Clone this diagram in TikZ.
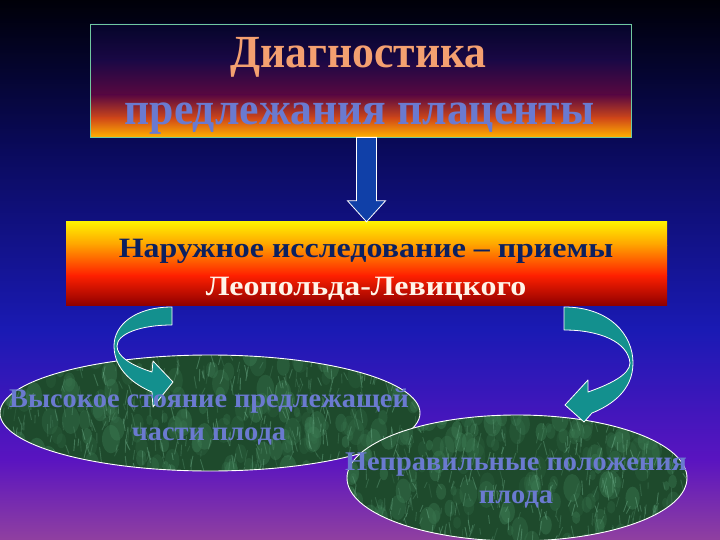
\documentclass[tikz,border=0pt]{standalone}
\usepackage{fontspec}
\setmainfont{Liberation Serif}
\newfontfamily\titlefont[FakeStretch=0.95]{Liberation Serif}
\newfontfamily\midfont[FakeStretch=1.14]{Liberation Serif}
\newfontfamily\ellfont[FakeStretch=1.05]{Liberation Serif}
\usetikzlibrary{calc,shapes.geometric}
\definecolor{bgA}{HTML}{000008}
\definecolor{bgB}{HTML}{0A0A5C}
\definecolor{bgC}{HTML}{1A1AB4}
\definecolor{bgD}{HTML}{5A14C0}
\definecolor{bgE}{HTML}{9040A0}
\definecolor{tbA}{HTML}{05052A}
\definecolor{tbB}{HTML}{1A0845}
\definecolor{tbC}{HTML}{5A0840}
\definecolor{tbD}{HTML}{D04818}
\definecolor{tbE}{HTML}{FFB000}
\definecolor{mbA}{HTML}{FFF000}
\definecolor{mbB}{HTML}{FFA000}
\definecolor{mbC}{HTML}{FF2000}
\definecolor{mbD}{HTML}{900000}
\definecolor{peach}{HTML}{F4A070}
\definecolor{slate}{HTML}{6A7AD0}
\definecolor{navytxt}{HTML}{0C2060}
\definecolor{cream}{HTML}{FFF4E8}
\definecolor{teal}{HTML}{13908E}
\definecolor{boxline}{HTML}{70C8A0}
\definecolor{arrowblue}{HTML}{1040A8}
\definecolor{grbase}{HTML}{1E4A2C}
\definecolor{grlight}{HTML}{6AAA86}
\definecolor{grmid}{HTML}{3E7E56}
\tikzset{
  bigtxt/.style={font=\titlefont\bfseries\fontsize{46}{50}\selectfont, inner sep=0pt, anchor=base},
  midtxt/.style={font=\midfont\bfseries\fontsize{28}{32}\selectfont, inner sep=0pt, anchor=base},
  elltxt/.style={font=\ellfont\bfseries\fontsize{27}{30}\selectfont, text=slate, inner sep=0pt, anchor=base},
  ribbon/.style={fill=teal, draw=white, line width=0.8pt, line join=round},
  blockarrow/.style={fill=arrowblue, draw=white, line width=0.8pt},
  ellborder/.style={draw=white, line width=0.9pt}
}
\newcommand\marbletexture[4]{% cx cy rx ry
  \foreach \i in {1,...,160} {
    \pgfmathsetmacro\xx{#1+#3*rand}
    \pgfmathsetmacro\yy{#2+#4*rand}
    \pgfmathsetmacro\rr{3+6*rnd}
    \pgfmathsetmacro\op{0.15+0.3*rnd}
    \fill[grmid, opacity=\op] (\xx,\yy) ellipse [x radius=\rr, y radius=1.6*\rr];
  }
  \foreach \i in {1,...,380} {
    \pgfmathsetmacro\xx{#1+#3*rand}
    \pgfmathsetmacro\yy{#2+#4*rand}
    \pgfmathsetmacro\dx{4*rand}
    \pgfmathsetmacro\dy{5+10*rnd}
    \pgfmathsetmacro\op{0.15+0.35*rnd}
    \draw[grlight, opacity=\op, line width=0.9pt, line cap=round] (\xx,\yy) -- ++(\dx,\dy);
  }
}
\begin{document}
\begin{tikzpicture}[x=1pt,y=-1pt]
\useasboundingbox (0,0) rectangle (720,540);
% background
\shade[top color=bgA,bottom color=bgB] (0,0) rectangle (720,151);
\shade[top color=bgB,bottom color=bgC] (0,150) rectangle (720,331);
\shade[top color=bgC,bottom color=bgD] (0,330) rectangle (720,461);
\shade[top color=bgD,bottom color=bgE] (0,460) rectangle (720,540);
% top box
\shade[top color=tbA,bottom color=tbB] (90,24) rectangle (631,60.5);
\shade[top color=tbB,bottom color=tbC] (90,60) rectangle (631,95.5);
\shade[top color=tbC,bottom color=tbD] (90,95) rectangle (631,118.5);
\shade[top color=tbD,bottom color=tbE] (90,118) rectangle (631,137);
\node[draw=boxline, line width=0.8pt, minimum width=541pt, minimum height=113pt, inner sep=0pt] (topbox) at (360.5,80.5) {};
\node[bigtxt, text=peach] (t1) at (358.5,68) {Диагностика};
\node[bigtxt, text=slate] (t2) at (359.5,125) {предлежания плаценты};
% middle box
\shade[top color=mbA,bottom color=mbB] (66,222) rectangle (667,245.5);
\shade[top color=mbB,bottom color=mbC] (66,245) rectangle (667,275.5);
\shade[top color=mbC,bottom color=mbD] (66,275) rectangle (667,305);
\node[minimum width=601pt, minimum height=83pt, inner sep=0pt] (midbox) at (366.5,263.5) {};
\node[midtxt, text=navytxt] (m1) at (366,258) {Наружное исследование – приемы};
\node[midtxt, text=cream] (m2) at (366,295) {Леопольда-Левицкого};
% down arrow
\coordinate (dtop) at (midbox.north |- topbox.south);
\filldraw[blockarrow] ($(dtop)+(-10,0)$) -- ($(dtop)+(10,0)$) -- ($(midbox.north)+(10,-21)$) -- ($(midbox.north)+(19,-21)$) -- (midbox.north) -- ($(midbox.north)+(-19,-21)$) -- ($(midbox.north)+(-10,-21)$) -- cycle;
% left ellipse
\pgfmathsetseed{7}
\begin{scope}
\clip (210,413) ellipse [x radius=210, y radius=58];
\fill[grbase] (0,350) rectangle (420,475);
\marbletexture{210}{413}{210}{60}
\end{scope}
\node[ellipse, ellborder, minimum width=420pt, minimum height=116pt, inner sep=0pt] (ell1) at (210,413) {};
% left ribbon arrow
\filldraw[ribbon] (172,307) .. controls (135,307) and (114,325) .. (114,346)
  .. controls (114,370) and (135,385) .. (152,392) -- (153,407) -- (173,382) -- (153,361) -- (152,372)
  .. controls (130,365) and (117,356) .. (117,346)
  .. controls (117,334) and (140,325) .. (172,325) -- cycle;
% right ellipse
\begin{scope}
\clip (517,478) ellipse [x radius=170, y radius=63];
\fill[grbase] (345,412) rectangle (690,545);
\marbletexture{517}{478}{170}{66}
\end{scope}
\node[ellipse, ellborder, minimum width=340pt, minimum height=126pt, inner sep=0pt] (ell2) at (517,478) {};
% right ribbon arrow
\filldraw[ribbon] (564,307) .. controls (610,307) and (633,335) .. (633,363)
  .. controls (633,390) and (612,405) .. (592,413) -- (584,422) -- (565,405) -- (588,380) -- (588,392)
  .. controls (608,385) and (630,375) .. (630,363)
  .. controls (628,342) and (600,330) .. (564,330) -- cycle;
% ellipse texts
\node[elltxt] (e1) at (209,407) {Высокое стояние предлежащей};
\node[elltxt] (e2) at (209,440) {части плода};
\node[elltxt] (e3) at (516,470) {Неправильные положения};
\node[elltxt] (e4) at (516,503) {плода};
\end{tikzpicture}
\end{document}
